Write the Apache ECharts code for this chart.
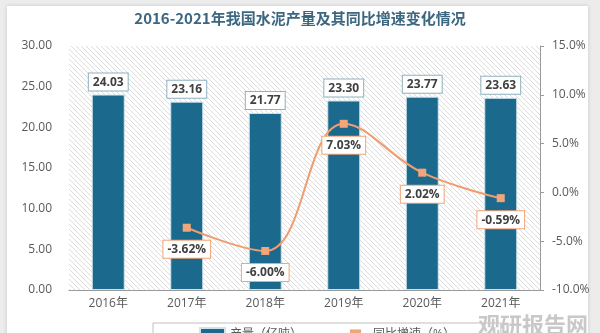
<!DOCTYPE html>
<html><head><meta charset="utf-8">
<script src="https://cdn.jsdelivr.net/npm/echarts@6/dist/echarts.min.js"></script>
<style>html,body{margin:0;padding:0;background:#ececec}#c{width:600px;height:333px}</style>
</head><body><div id="c"></div>
<script>
const categories = ['2016年','2017年','2018年','2019年','2020年','2021年'];
const output = [24.03, 23.16, 21.77, 23.30, 23.77, 23.63];
const growth = [null, -3.62, -6.00, 7.03, 2.02, -0.59];
const leftTicks = [0, 30, 5];
const rightTicks = [-10, 15, 5];

const pc = document.createElement('canvas');
pc.width = 5; pc.height = 5;
const g = pc.getContext('2d');
g.fillStyle = '#ffffff'; g.fillRect(0,0,5,5);
g.strokeStyle = '#dcdcdc'; g.lineWidth = 1;
g.beginPath(); g.moveTo(-1,-1); g.lineTo(6,6); g.stroke();

const chart = echarts.init(document.getElementById('c'));
const font = '"Open Sans", "Noto Sans CJK SC", sans-serif';
chart.setOption({
  backgroundColor: '#ececec',
  animation: false,
  graphic: [
    {type:'rect', shape:{x:7,y:6,width:581,height:340}, style:{fill:'#ffffff', shadowBlur:4, shadowColor:'rgba(0,0,0,0.15)'}, z:-10},
    {type:'text', left:478, top:314, style:{text:'观研报告网', fill:'#c8c8c8', font:'bold 22px "Noto Sans CJK SC"'}, z:10}
  ],
  title: {
    text: '2016-2021年我国水泥产量及其同比增速变化情况',
    left: 'center', top: 6,
    textStyle: {fontFamily:'"Noto Sans CJK SC"', fontSize: 15, fontWeight: 'bold', color: '#3c6780'}
  },
  legend: {
    bottom: -14, left: 153,
    padding: [4, 46, 4, 46],
    borderColor: '#bfbfbf', borderWidth: 1,
    itemGap: 40,
    textStyle: {fontFamily: font, fontSize: 12, color: '#595959'},
    data: [{name:'产量（亿吨）', icon:'rect'}, {name:'同比增速（%）'}]
  },
  grid: {left: 69, right: 60, top: 46, bottom: 43, show: true, borderWidth: 0,
         backgroundColor: {image: pc, repeat: 'repeat'}},
  xAxis: {
    type: 'category', data: categories,
    axisLine: {lineStyle: {color: '#9a9a9a', width: 1}},
    axisTick: {show: false},
    axisLabel: {color: '#595959', fontFamily: font, fontSize: 12, margin: 8}
  },
  yAxis: [
    {type: 'value', min: leftTicks[0], max: leftTicks[1], interval: leftTicks[2],
     axisLine: {show: false}, axisTick: {show: false}, splitLine: {show: false},
     axisLabel: {color: '#595959', fontFamily: font, fontSize: 12, margin: 17,
                 formatter: v => v.toFixed(2)}},
    {type: 'value', min: rightTicks[0], max: rightTicks[1], interval: rightTicks[2], position: 'right',
     axisLine: {show: true, lineStyle: {color: '#9a9a9a'}}, axisTick: {show: true, inside: false, length: 4, lineStyle: {color: '#9a9a9a'}},
     splitLine: {show: false},
     axisLabel: {color: '#595959', fontFamily: font, fontSize: 12, margin: 12,
                 formatter: v => v.toFixed(1) + '%'}}
  ],
  series: [
    {name: '产量（亿吨）', type: 'bar', data: output, barWidth: 33,
     itemStyle: {color: '#1b6a8d', borderColor: '#cfe3ec', borderWidth: 1},
     label: {show: true, position: 'top', distance: 4, formatter: p => p.value.toFixed(2),
             backgroundColor: '#ffffff', borderColor: '#8fb0bf', borderWidth: 1, padding: [3, 4, 2, 4],
             color: '#404040', fontFamily: font, fontSize: 12, fontWeight: 'bold'}},
    {name: '同比增速（%）', type: 'line', yAxisIndex: 1, data: growth, smooth: 0.4,
     symbol: 'rect', symbolSize: 8,
     lineStyle: {color: '#ee9d70', width: 2},
     itemStyle: {color: '#f0a57a'},
     label: {show: true, position: 'bottom', distance: 9, formatter: p => p.value.toFixed(2) + '%',
             backgroundColor: '#ffffff', borderColor: '#f0a57a', borderWidth: 1, padding: [3, 4, 2, 4],
             color: '#404040', fontFamily: font, fontSize: 12, fontWeight: 'bold'},
     z: 5}
  ]
});
</script></body></html>
